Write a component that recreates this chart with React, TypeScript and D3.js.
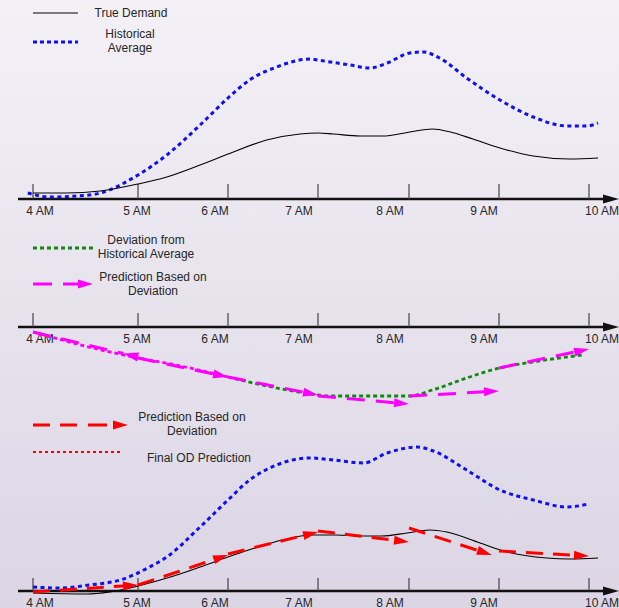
import React from "react";
import * as d3 from "d3";

const W = 619;
const H = 608;

const hourTicks = [4, 5, 6, 7, 8, 9, 10];
const tickLabels = ["4 AM", "5 AM", "6 AM", "7 AM", "8 AM", "9 AM", "10 AM"];

// Panel 1
const trueDemand1: [number, number][] = [
  [4.0, 6], [4.32, 6], [4.64, 8], [5.0, 15], [5.32, 22], [5.69, 34], [6.0, 45], [6.43, 59], [6.8, 65],
  [7.0, 66], [7.17, 65], [7.46, 63], [7.71, 63], [8.01, 67], [8.26, 70], [8.46, 67], [8.71, 60],
  [9.01, 51], [9.38, 43], [9.79, 40], [10.1, 41],
];
const histAvg1: [number, number][] = [
  [3.95, 6], [4.16, 2], [4.42, 3], [4.64, 6], [5.0, 24], [5.32, 44], [5.69, 74], [6.0, 101], [6.24, 119],
  [6.54, 132], [6.91, 140], [6.99, 139], [7.35, 134], [7.57, 131], [7.76, 136], [8.01, 146], [8.16, 147],
  [8.34, 141], [8.64, 121], [9.01, 99], [9.38, 82], [9.76, 73], [9.98, 73], [10.1, 76],
];

// Panel 2
const deviation: [number, number][] = [
  [4, -5], [4.61, -22], [5, -31], [5.42, -38], [6, -50], [6.28, -56], [6.66, -63], [7, -68], [7.2, -69],
  [8, -69], [8.26, -63], [8.64, -51], [9, -41], [9.37, -35], [9.93, -28],
];
// [fromHour, fromValue, toHour, toValue, reversedHead]
const devPredictions: [number, number, number, number, boolean][] = [
  [4, -5, 5, -30, true],
  [5, -31, 6, -50, false],
  [6, -50, 7, -68, false],
  [7, -69, 8, -77, false],
  [8, -69, 9, -64, false],
  [9, -41, 10, -22, false],
];

// Panel 3
const histAvg3: [number, number][] = [
  [4, 4], [4.26, 3], [4.54, 6], [4.83, 11], [5.13, 24], [5.32, 34], [5.69, 64], [6, 91], [6.24, 111],
  [6.54, 126], [6.91, 133], [7.17, 131], [7.5, 128], [7.76, 138], [8.09, 144], [8.27, 140], [8.64, 121],
  [9.01, 101], [9.38, 91], [9.76, 84], [9.99, 87],
];
const trueDemand3: [number, number][] = [
  [4, -2], [4.51, -3], [4.73, -1], [5, 5], [5.36, 14], [5.69, 24], [6, 34], [6.3, 43], [6.6, 51],
  [6.94, 56], [7.2, 56], [7.5, 55], [7.7, 55], [7.98, 58], [8.23, 61], [8.42, 59], [8.79, 48], [9.09, 39],
  [9.53, 33], [9.79, 32], [10.1, 33],
];
const finalPredictions: [number, number, number, number, boolean][] = [
  [4, -1, 5, 6, false],
  [5, 6, 6, 36, false],
  [6, 37, 7, 59, false],
  [7, 60, 8, 49, false],
  [8, 63, 8.92, 36, false],
  [9, 40, 10, 35, false],
];

const x = d3.scaleLinear().domain(hourTicks).range([33, 138, 228, 318, 409, 499, 589]);
const labelShift = [7, -1, -13, -19, -19, -15, 13];

const FONT = "'Liberation Sans', Arial, sans-serif";
const TXT = "#262626";
const FS = 12;

function yScale(axisY: number) {
  return d3.scaleLinear().domain([0, 100]).range([axisY, axisY - 100]);
}

function Axis({ y, tickLen }: { y: number; tickLen: number }) {
  return (
    <g>
      <line x1={18} x2={606} y1={y} y2={y} stroke="#111" strokeWidth={2.5} />
      <path d={`M603,${y - 4.5} L619,${y} L603,${y + 4.5} Z`} fill="#111" />
      {hourTicks.map((h, i) => (
        <g key={h}>
          <line x1={x(h)} x2={x(h)} y1={y - tickLen} y2={y} stroke="#444" strokeWidth={1.2} />
          <text
            x={x(h) + labelShift[i]}
            y={y + 16}
            textAnchor="middle"
            fontFamily={FONT}
            fontSize={FS}
            fill={TXT}
          >
            {tickLabels[i]}
          </text>
        </g>
      ))}
    </g>
  );
}

function Arrows({
  data,
  ys,
  color,
  dash,
}: {
  data: [number, number, number, number, boolean][];
  ys: d3.ScaleLinear<number, number>;
  color: string;
  dash: string;
}) {
  const L = 15;
  const HW = 4.5;
  return (
    <g>
      {data.map((a, i) => {
        const x0 = x(a[0]);
        const y0 = ys(a[1]);
        const x1 = x(a[2]);
        const y1 = ys(a[3]);
        const len = Math.hypot(x1 - x0, y1 - y0);
        const ux = (x1 - x0) / len;
        const uy = (y1 - y0) / len;
        const bx = x1 - ux * L;
        const by = y1 - uy * L;
        let head: string;
        if (!a[4]) {
          head = `M${x1},${y1} L${bx - uy * HW},${by + ux * HW} L${bx + uy * HW},${by - ux * HW} Z`;
        } else {
          head = `M${bx},${by} L${x1 - uy * HW},${y1 + ux * HW} L${x1 + uy * HW},${y1 - ux * HW} Z`;
        }
        return (
          <g key={i}>
            <line x1={x0} y1={y0} x2={bx} y2={by} stroke={color} strokeWidth={3} strokeDasharray={dash} />
            <path d={head} fill={color} />
          </g>
        );
      })}
    </g>
  );
}

export default function App() {
  const y1 = yScale(199);
  const y2 = yScale(327);
  const y3 = yScale(591);
  const line = (ys: d3.ScaleLinear<number, number>) =>
    d3
      .line<[number, number]>()
      .x((d) => x(d[0]))
      .y((d) => ys(d[1]))
      .curve(d3.curveMonotoneX);

  const devA = deviation.filter((d) => d[0] <= 6);
  const devB = deviation.filter((d) => d[0] >= 6);

  const txt = (tx: number, ty: number, s: string) => (
    <text x={tx} y={ty} textAnchor="middle" fontFamily={FONT} fontSize={FS} fill={TXT}>
      {s}
    </text>
  );

  return (
    <svg width={W} height={H} style={{ position: "absolute", left: 0, top: 0 }}>
      <defs>
        <linearGradient id="bg" x1="0" y1="0" x2="0" y2="1">
          <stop offset="0" stopColor="#f3f1f6" />
          <stop offset="1" stopColor="#dbd5e4" />
        </linearGradient>
      </defs>
      <rect x={0} y={0} width={W} height={H} fill="url(#bg)" />

      {/* Panel 1 */}
      <line x1={33} x2={78} y1={13} y2={13} stroke="#000" strokeWidth={1.2} />
      {txt(131, 17, "True Demand")}
      <line x1={33} x2={78} y1={42} y2={42} stroke="#1010ee" strokeWidth={3} strokeDasharray="4 3" />
      {txt(130, 38, "Historical")}
      {txt(130, 52, "Average")}
      <Axis y={199} tickLen={15} />
      <path d={line(y1)(histAvg1) || ""} fill="none" stroke="#1010ee" strokeWidth={3} strokeDasharray="4 3.5" />
      <path d={line(y1)(trueDemand1) || ""} fill="none" stroke="#000" strokeWidth={1.1} />

      {/* Panel 2 */}
      <line x1={33} x2={93} y1={248} y2={248} stroke="#118811" strokeWidth={3} strokeDasharray="4 3" />
      {txt(146, 244, "Deviation from")}
      {txt(146, 258, "Historical Average")}
      <line x1={33} x2={52} y1={284} y2={284} stroke="#ff00ff" strokeWidth={3} />
      <line x1={63} x2={80} y1={284} y2={284} stroke="#ff00ff" strokeWidth={3} />
      <path d="M78,279.5 L93,284 L78,288.5 Z" fill="#ff00ff" />
      {txt(153, 281, "Prediction Based on")}
      {txt(153, 295, "Deviation")}
      <Axis y={327} tickLen={14} />
      <path d={line(y2)(devB) || ""} fill="none" stroke="#118811" strokeWidth={2.8} strokeDasharray="4 3" />
      <path d={line(y2)(devA) || ""} fill="none" stroke="#ff00ff" strokeWidth={2.8} strokeDasharray="4 3" />
      <Arrows data={devPredictions} ys={y2} color="#ff00ff" dash="18 11" />

      {/* Panel 3 */}
      <line x1={33} x2={50} y1={425} y2={425} stroke="#ff0000" strokeWidth={3} />
      <line x1={60} x2={77} y1={425} y2={425} stroke="#ff0000" strokeWidth={3} />
      <line x1={88} x2={107} y1={425} y2={425} stroke="#ff0000" strokeWidth={3} />
      <path d="M113,420.5 L128,425 L113,429.5 Z" fill="#ff0000" />
      {txt(192, 421, "Prediction Based on")}
      {txt(192, 435, "Deviation")}
      <line x1={33} x2={120} y1={452} y2={452} stroke="#ff0000" strokeWidth={2} strokeDasharray="3 3" />
      {txt(199, 462, "Final OD Prediction")}
      <Axis y={591} tickLen={13} />
      <path d={line(y3)(histAvg3) || ""} fill="none" stroke="#1010ee" strokeWidth={3} strokeDasharray="4 3.5" />
      <path d={line(y3)(trueDemand3) || ""} fill="none" stroke="#000" strokeWidth={1.1} />
      <Arrows data={finalPredictions} ys={y3} color="#ff0000" dash="17 10" />
    </svg>
  );
}
